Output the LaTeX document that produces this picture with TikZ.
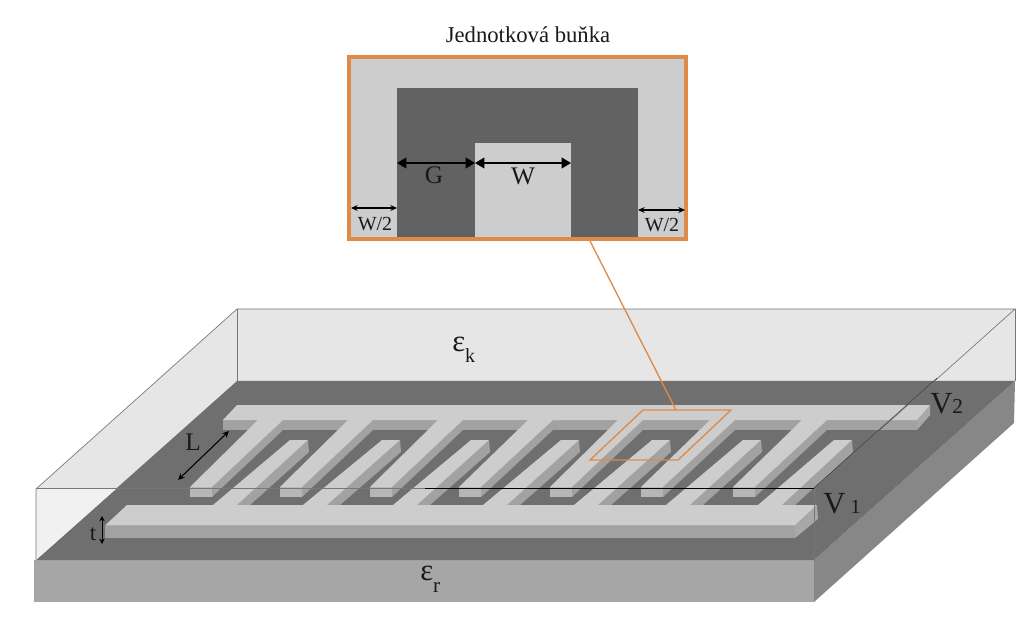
\documentclass[tikz,border=0pt]{standalone}
\usepackage{fontspec}
\setmainfont{Liberation Serif}
\usetikzlibrary{arrows.meta}
\definecolor{wall}{HTML}{E6E6E6}
\definecolor{wedge}{HTML}{F1F1F1}
\definecolor{ground}{HTML}{6F6F6F}
\definecolor{metal}{HTML}{CDCDCD}
\definecolor{face}{HTML}{A2A2A2}
\definecolor{tipface}{HTML}{B6B6B6}
\definecolor{sideface}{HTML}{A8A8A8}
\definecolor{subfront}{HTML}{A6A6A6}
\definecolor{subside}{HTML}{878787}
\definecolor{cellorange}{HTML}{DE8A48}
\definecolor{edgegray}{HTML}{777777}
\tikzset{
  lbl/.style={inner sep=0pt,text=black!90},
  small/.style={lbl,font=\fontsize{15}{17}\selectfont},
  mid/.style={lbl,font=\fontsize{17}{20}\selectfont},
  big/.style={lbl,font=\fontsize{23}{25}\selectfont},
  dimthin/.style={{Stealth[length=5pt,width=4.5pt]}-{Stealth[length=5pt,width=4.5pt]},line width=0.8pt,black},
  dimthick/.style={{Triangle[length=7pt,width=8pt]}-{Triangle[length=7pt,width=8pt]},line width=1.2pt,black},
  cellframe/.style={draw=cellorange,line width=3pt,fill=metal,minimum width=253pt,minimum height=136.5pt,inner sep=0pt},
  link/.style={draw=cellorange,line width=1pt},
}
\begin{document}
\begin{tikzpicture}[x=0.75pt,y=-0.75pt]
\useasboundingbox (0,0) rectangle (1024,623);
% substrate
\fill[subfront] (34,560) -- (814,560) -- (814,602) -- (34,602) -- cycle;
\fill[subside] (814,560) -- (1015,381) -- (1014,423) -- (814,602) -- cycle;
% walls and ground plane
\fill[wall] (237,309) -- (1015,309) -- (1015,381) -- (237,381) -- cycle;
\fill[wall] (36,489) -- (237,309) -- (237,381) -- (36,560) -- cycle;
\fill[ground] (36,560) -- (237,381) -- (1015,381) -- (814,560) -- cycle;
\fill[wedge] (36,489) -- (116,489) -- (36,560) -- cycle;
% upper comb: bus front, finger sides, tips
\fill[face] (223,420) -- (917,420) -- (917,430) -- (223,430) -- cycle;
\fill[sideface] (917,420) -- (930,405) -- (930,415) -- (917,430) -- cycle;
\foreach \R/\T in {283/212,373/302,463/392,553/481,643/572,735/663,827/755}{
  \fill[face] (\R,420) -- (\R,430) -- (\T,497) -- (\T,487) -- cycle;
  \fill[tipface] (\T-22,487) -- (\T,487) -- (\T,497) -- (\T-22,497) -- cycle;
}
\fill[metal] (237,405) -- (930,405) -- (917,420) -- (223,420) -- cycle;
\foreach \R/\T in {283/212,373/302,463/392,553/481,643/572,735/663,827/755}{
  \fill[metal] (\R-25,420) -- (\R,420) -- (\T,487) -- (\T-22,487) -- cycle;
}
% lower comb
\foreach \R/\T in {237/308,327/400,417/489,507/579,598/670,690/761,782/852}{
  \fill[face] (\R,505) -- (\T,440) -- (\T+1,452) -- (\R+13,505) -- cycle;
  \fill[metal] (\R-24,505) -- (\R,505) -- (\T,440) -- (\T-18,440) -- cycle;
}
\fill[metal] (127,505) -- (817,505) -- (795,525.5) -- (105,525.5) -- cycle;
\fill[face] (105,525.5) -- (795,525.5) -- (795,538) -- (105,538) -- cycle;
\fill[sideface] (795,525.5) -- (817,505) -- (818,519) -- (795,538) -- cycle;
% box edges
\draw[edgegray,line width=0.5pt] (36,560) -- (36,489) -- (237,309) -- (1015,309) -- (814,489);
\draw[edgegray,line width=0.5pt] (237,309) -- (237,381);
\draw[edgegray,line width=0.5pt] (1015,309) -- (1015,381);
\draw[edgegray,line width=0.5pt] (814,489) -- (814,560);
\draw[edgegray,line width=0.5pt] (36,488) -- (425,488);
\draw[black,line width=0.6pt] (425,488) -- (814,488);
\draw[black!75,line width=0.4pt] (814,488) -- (937,378);
% unit cell on the comb
\coordinate (cellA) at (643,410);
\coordinate (cellB) at (731,410);
\coordinate (cellC) at (678,460);
\coordinate (cellD) at (590,460);
\coordinate (linkEnd) at (676,410);
\draw[link] (cellA) -- (cellB) -- (cellC) -- (cellD) -- cycle;
% inset
\node[cellframe] (cell) at (517.5,148) {};
\fill[ground!88!black] (397,88) rectangle (638,237);
\fill[metal] (475,143) rectangle (571,237);
\draw[draw=cellorange,line width=3pt] (349,57) rectangle (686,239);
\coordinate (linkStart) at (590,241);
\draw[link] (linkStart) -- (linkEnd);
\coordinate (g1) at (397,163);
\coordinate (g2) at (475,163);
\coordinate (w2) at (571,163);
\draw[dimthick] (g1) -- (g2);
\draw[dimthick] (g2) -- (w2);
\coordinate (la) at (351,208);
\coordinate (lb) at (397,208);
\coordinate (ra) at (638,210);
\coordinate (rb) at (685,210);
\draw[dimthin] (la) -- (lb);
\draw[dimthin] (ra) -- (rb);
% labels
\node[mid] (title) at (528,35) {Jednotková buňka};
\node[lbl,font=\fontsize{19}{21}\selectfont] (lG) at (434,175) {G};
\node[lbl,font=\fontsize{19}{21}\selectfont] (lW) at (523,176) {W};
\node[small] (lh1) at (375,224) {W/2};
\node[small] (lh2) at (662,225) {W/2};
\node[big,anchor=base west] (ek) at (452,352) {ε\raisebox{-8pt}{\fontsize{15}{17}\selectfont k}};
\node[big,anchor=base west] (er) at (420,580) {ε\raisebox{-9pt}{\fontsize{16}{18}\selectfont r}};
\node[lbl,font=\fontsize{19}{21}\selectfont] (lL) at (193,442) {L};
\node[mid] (lt) at (93,534) {t};
\node[big,anchor=base west] (v1) at (823,513) {V\,\fontsize{15}{17}\selectfont 1};
\node[big,anchor=base west] (v2) at (930,413) {V\fontsize{16}{18}\selectfont 2};
% dimension arrows on the comb
\coordinate (La) at (178,480);
\coordinate (Lb) at (229,431);
\draw[dimthin] (La) -- (Lb);
\coordinate (ta) at (102,516);
\coordinate (tb) at (102,544);
\draw[{Stealth[length=4pt,width=4pt]}-{Stealth[length=4pt,width=4pt]},line width=0.6pt] (ta) -- (tb);
\end{tikzpicture}
\end{document}
